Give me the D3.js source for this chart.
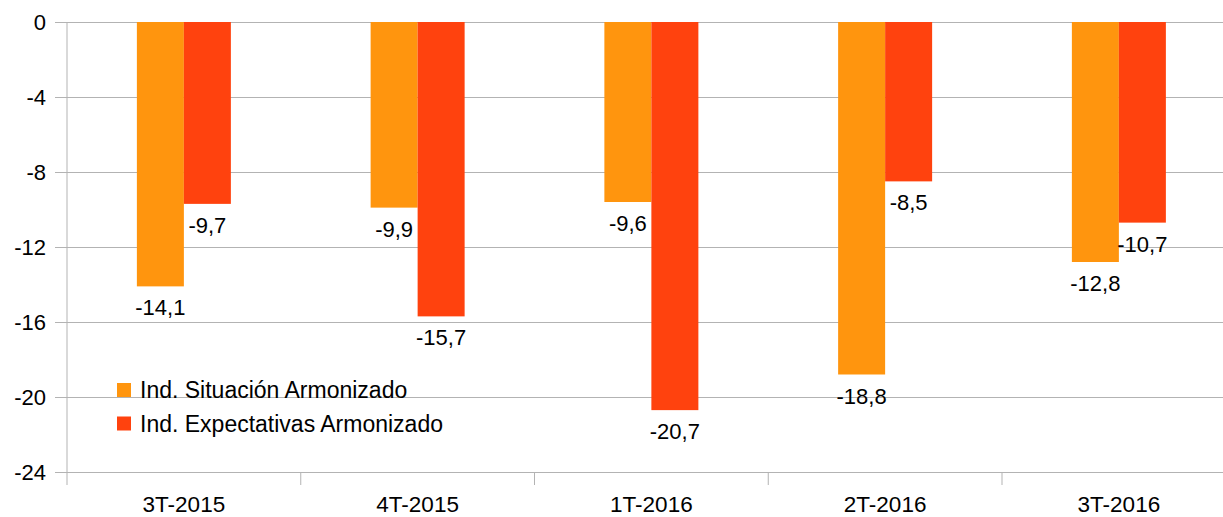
<!DOCTYPE html>
<html><head><meta charset="utf-8">
<script src="https://cdn.jsdelivr.net/npm/d3@7"></script>
<style>body{margin:0;background:#fff}svg{display:block;font-family:"Liberation Sans",Arial,sans-serif}</style>
</head><body><svg id="c" width="1223" height="517"></svg>
<script>
const categories = ["3T-2015","4T-2015","1T-2016","2T-2016","3T-2016"];
const seriesNames = ["Ind. Situación Armonizado","Ind. Expectativas Armonizado"];
const situacion = [-14.1,-9.9,-9.6,-18.8,-12.8];
const expectativas = [-9.7,-15.7,-20.7,-8.5,-10.7];
const yTicks = [0,-4,-8,-12,-16,-20,-24];
const colors = ["#FF950E","#FF420E"];

(function(){
const svg = d3.select("#c");
const pLeft = 67, pTop = 22, pBottom = 472, catW = 233.75;
const pRight = pLeft + catW*categories.length;
const y = d3.scaleLinear().domain([-24,0]).range([pBottom, pTop]);
const x = d3.scaleBand().domain(categories).range([pLeft, pRight]);
const groupW = 94;
const xi = d3.scaleBand().domain([0,1]).range([0, groupW]);
const fmt = v => String(v).replace(".", ",");

// gridlines and y ticks
const yAxis = d3.axisLeft(y).tickValues(yTicks).tickSize(12).tickFormat(d => d);
const gy = svg.append("g").attr("transform", `translate(${pLeft},0)`).call(yAxis);
gy.select(".domain").remove();
gy.selectAll(".tick line").attr("stroke", "#b3b3b3").attr("x2", pRight - pLeft).attr("x1", -12);
gy.selectAll(".tick text").attr("x", -21).attr("font-size", 22).attr("fill", "#000")
  .attr("font-family", "Liberation Sans, Arial, sans-serif");

// bars
const data = categories.map((c,i) => ({c, vals:[situacion[i], expectativas[i]]}));
const g = svg.append("g");
data.forEach(d => {
  d.vals.forEach((v,k) => {
    const bx = x(d.c) + (x.bandwidth()-groupW)/2 + xi(k);
    g.append("rect").attr("x", bx).attr("y", y(0)).attr("width", xi.bandwidth())
      .attr("height", y(v) - y(0)).attr("fill", colors[k]);
    g.append("text").attr("x", bx + xi.bandwidth()/2).attr("y", y(v) + 29)
      .attr("text-anchor", "middle").attr("font-size", 22).attr("fill", "#000").text(fmt(v));
  });
});

// axes lines
svg.append("line").attr("x1", pLeft).attr("x2", pLeft).attr("y1", pTop).attr("y2", pBottom + 13).attr("stroke", "#b3b3b3");
const xAxis = d3.axisBottom(x).tickSize(0);
const gx = svg.append("g").attr("transform", `translate(0,${pBottom})`).call(xAxis);
gx.select(".domain").remove();
gx.selectAll(".tick text").attr("y", 0).attr("dy", 0).attr("transform", "translate(0,40)")
  .attr("font-size", 22.5).attr("fill", "#000").attr("font-family", "Liberation Sans, Arial, sans-serif");
categories.forEach((c,i) => {
  if (i === 0) return;
  svg.append("line").attr("x1", x(c)).attr("x2", x(c)).attr("y1", pBottom).attr("y2", pBottom + 13).attr("stroke", "#b3b3b3");
});

// legend
const lg = svg.append("g");
seriesNames.forEach((n,k) => {
  lg.append("rect").attr("x", 117).attr("y", 383 + k*33.5).attr("width", 14).attr("height", 14).attr("fill", colors[k]);
  lg.append("text").attr("x", 140).attr("y", 398 + k*33.5).attr("font-size", 23).attr("fill", "#000").text(n);
});
})();
</script></body></html>
